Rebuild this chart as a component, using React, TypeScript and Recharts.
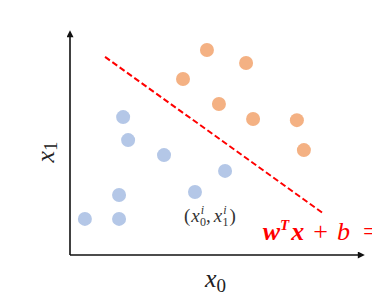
import { ScatterChart, Scatter, XAxis, YAxis, ReferenceLine, ReferenceDot } from 'recharts';

// class A (blue) and class B (orange) samples
const blueX = [0.51, 1.68, 1.68, 1.82, 1.99, 3.22, 4.28, 5.31];
const blueY = [1.3, 1.3, 2.16, 4.97, 4.14, 3.6, 2.27, 3.03];
const orangeX = [4.69, 6.03, 3.87, 5.1, 6.27, 7.77, 8.01];
const orangeY = [7.39, 6.92, 6.34, 5.44, 4.9, 4.86, 3.78];

// decision boundary end points
const boundaryX = [1.2, 8.66];
const boundaryY = [7.14, 1.51];

// annotation anchors
const sampleLabel = { x: 3.9, y: 1.19 };
const formulaLabel = { x: 6.6, y: 0.54 };

const BLUE = '#b4c7e7';
const ORANGE = '#f4b183';
const SERIF = '"Liberation Serif", "DejaVu Serif", serif';

const blueData = blueX.map((x, i) => ({ x, y: blueY[i] }));
const orangeData = orangeX.map((x, i) => ({ x, y: orangeY[i] }));

const dot = (color: string) => (p: any) => <circle cx={p.cx} cy={p.cy} r={7} fill={color} />;

const XTitle = ({ viewBox }: any) => (
  <text x={viewBox.x + viewBox.width / 2 - 11} y={viewBox.y + 32} fontFamily={SERIF} fontSize={26} fontStyle="italic" fill="#222">
    x<tspan fontStyle="normal" fontSize={19} dy={5}>0</tspan>
  </text>
);

const YTitle = ({ viewBox }: any) => {
  const cx = viewBox.x + viewBox.width - 25;
  const cy = viewBox.y + viewBox.height / 2 + 8;
  return (
    <text x={cx} y={cy} transform={`rotate(-90 ${cx} ${cy})`} textAnchor="middle" dominantBaseline="central" fontFamily={SERIF} fontSize={26} fontStyle="italic" fill="#222">
      x<tspan fontStyle="normal" fontSize={19} dy={5}>1</tspan>
    </text>
  );
};

const SampleText = ({ viewBox }: any) => (
  <text x={viewBox.x} y={viewBox.y} fontFamily={SERIF} fontSize={19} fill="#333">
    (<tspan fontStyle="italic" dx={1}>x</tspan>
    <tspan fontSize={12} fontStyle="italic" dy={-8} dx={1}>i</tspan>
    <tspan fontSize={12} dy={12} dx={-4}>0</tspan>
    <tspan dy={-4}>,</tspan>
    <tspan fontStyle="italic" dx={3}>x</tspan>
    <tspan fontSize={12} fontStyle="italic" dy={-8} dx={1}>i</tspan>
    <tspan fontSize={12} dy={12} dx={-4}>1</tspan>
    <tspan dy={-4} dx={1}>)</tspan>
  </text>
);

const FormulaText = ({ viewBox }: any) => (
  <text x={viewBox.x} y={viewBox.y} fontFamily={SERIF} fontSize={26} fontStyle="italic" fill="#ff0000">
    <tspan fontWeight="bold">w</tspan>
    <tspan fontWeight="bold" fontSize={15} dy={-10}>T</tspan>
    <tspan fontWeight="bold" dy={10} dx={2}>x</tspan>
    <tspan fontStyle="normal" dx={9}>+</tspan>
    <tspan dx={9}>b</tspan>
    <tspan fontStyle="normal" dx={13}>=</tspan>
  </text>
);

export default function App() {
  return (
    <div style={{ position: 'absolute', left: 0, top: 0, background: '#fff' }}>
      <ScatterChart width={372} height={308} margin={{ top: 33, right: 10, bottom: 52, left: 69 }}>
        <defs>
          <marker id="arrow" viewBox="0 0 10 10" refX={6} refY={5} markerWidth={8} markerHeight={7} markerUnits="userSpaceOnUse" orient="auto-start-reverse">
            <path d="M0,0 L10,5 L0,10 z" fill="#111" />
          </marker>
        </defs>
        <XAxis
          type="number"
          dataKey="x"
          domain={[0, 10]}
          height={1}
          tick={false}
          tickLine={false}
          axisLine={{ stroke: '#111', strokeWidth: 1.6, markerEnd: 'url(#arrow)' } as any}
          label={<XTitle />}
        />
        <YAxis
          type="number"
          dataKey="y"
          domain={[0, 8]}
          width={1}
          tick={false}
          tickLine={false}
          axisLine={{ stroke: '#111', strokeWidth: 1.6, markerStart: 'url(#arrow)' } as any}
          label={<YTitle />}
        />
        <ReferenceLine
          segment={[
            { x: boundaryX[0], y: boundaryY[0] },
            { x: boundaryX[1], y: boundaryY[1] },
          ]}
          stroke="#ff0000"
          strokeWidth={2}
          strokeDasharray="6 3"
        />
        <Scatter data={blueData} shape={dot(BLUE)} isAnimationActive={false} />
        <Scatter data={orangeData} shape={dot(ORANGE)} isAnimationActive={false} />
        <ReferenceDot x={sampleLabel.x} y={sampleLabel.y} r={0} fill="none" stroke="none" label={<SampleText />} />
        <ReferenceDot x={formulaLabel.x} y={formulaLabel.y} r={0} fill="none" stroke="none" label={<FormulaText />} />
      </ScatterChart>
    </div>
  );
}
